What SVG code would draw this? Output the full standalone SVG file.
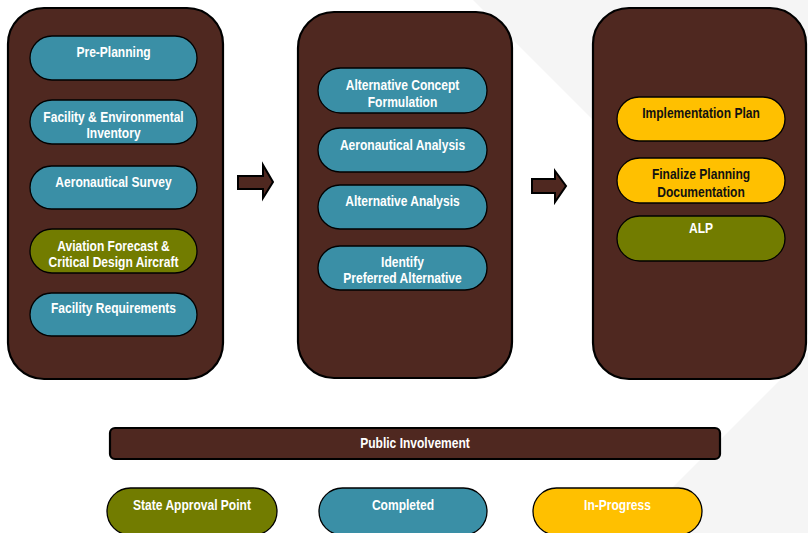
<svg xmlns="http://www.w3.org/2000/svg" width="808" height="533" viewBox="0 0 808 533">
<style>
.bg{fill:#f5f5f5}
.panel{fill:#4f2820;stroke:#000;stroke-width:2.2}
.pill{stroke:#000;stroke-width:1.3}
.blue{fill:#3a8fa6}
.green{fill:#727c00}
.yellow{fill:#ffc000}
.brown{fill:#4f2820}
text{font-family:"Liberation Sans",Arial,sans-serif;font-weight:bold;font-size:14.5px;text-anchor:middle}
.w{fill:#fff}
.k{fill:#111}
.arrow{fill:#4f2820;stroke:#000;stroke-width:2;stroke-linejoin:miter}
</style>
<rect width="808" height="533" fill="#fff"/>
<polygon class="bg" points="473,0 808,0 808,335"/>
<polygon class="bg" points="808,352 808,533 627,533"/>

<g id="panel-1">
<rect class="panel" x="8" y="8" width="215" height="371" rx="36"/>
<g id="pre-planning"><rect class="pill blue" x="30" y="36" width="167" height="44" rx="22"/><text class="w" transform="translate(113.5,57) scale(0.83,1)">Pre-Planning</text></g>
<g id="facility-env"><rect class="pill blue" x="30" y="100" width="167" height="44" rx="22"/><text class="w" transform="translate(113.5,122) scale(0.83,1)">Facility &amp; Environmental</text><text class="w" transform="translate(113.5,138) scale(0.83,1)">Inventory</text></g>
<g id="aero-survey"><rect class="pill blue" x="30" y="166" width="167" height="43" rx="21.5"/><text class="w" transform="translate(113.5,187) scale(0.83,1)">Aeronautical Survey</text></g>
<g id="aviation-forecast"><rect class="pill green" x="30" y="229" width="167" height="44" rx="22"/><text class="w" transform="translate(113.5,251) scale(0.83,1)">Aviation Forecast &amp;</text><text class="w" transform="translate(113.5,267) scale(0.83,1)">Critical Design Aircraft</text></g>
<g id="facility-req"><rect class="pill blue" x="30" y="293" width="167" height="43" rx="21.5"/><text class="w" transform="translate(113.5,313) scale(0.83,1)">Facility Requirements</text></g>
</g>

<g id="panel-2">
<rect class="panel" x="298" y="12" width="214" height="366" rx="36"/>
<g id="alt-concept"><rect class="pill blue" x="318" y="68" width="169" height="45" rx="22.5"/><text class="w" transform="translate(402.5,90) scale(0.83,1)">Alternative Concept</text><text class="w" transform="translate(402.5,107) scale(0.83,1)">Formulation</text></g>
<g id="aero-analysis"><rect class="pill blue" x="318" y="128" width="169" height="44" rx="22"/><text class="w" transform="translate(402.5,150) scale(0.83,1)">Aeronautical Analysis</text></g>
<g id="alt-analysis"><rect class="pill blue" x="318" y="185" width="169" height="44" rx="22"/><text class="w" transform="translate(402.5,206) scale(0.83,1)">Alternative Analysis</text></g>
<g id="identify"><rect class="pill blue" x="318" y="246" width="169" height="44" rx="22"/><text class="w" transform="translate(402.5,267) scale(0.83,1)">Identify</text><text class="w" transform="translate(402.5,283) scale(0.83,1)">Preferred Alternative</text></g>
</g>

<g id="panel-3">
<rect class="panel" x="593" y="8" width="213" height="371" rx="36"/>
<g id="impl-plan"><rect class="pill yellow" x="617" y="97" width="168" height="44" rx="22"/><text class="k" transform="translate(701,118) scale(0.83,1)">Implementation Plan</text></g>
<g id="finalize"><rect class="pill yellow" x="617" y="158" width="168" height="45" rx="22.5"/><text class="k" transform="translate(701,179) scale(0.83,1)">Finalize Planning</text><text class="k" transform="translate(701,197) scale(0.83,1)">Documentation</text></g>
<g id="alp"><rect class="pill green" x="617" y="216" width="168" height="45" rx="22.5"/><text class="w" transform="translate(701,233) scale(0.83,1)">ALP</text></g>
</g>

<g id="connectors">
<polygon class="arrow" points="238,176 263,176 263,165 273,182 263,198 263,189 238,189"/>
<polygon class="arrow" points="532,179 555,179 555,171 566,186 555,202 555,193 532,193"/>
</g>

<g id="public-involvement">
<rect class="panel" x="110" y="428" width="610" height="31" rx="5"/>
<text class="w" transform="translate(415,448) scale(0.83,1)">Public Involvement</text>
</g>

<g id="legend">
<g id="legend-state"><rect class="pill green" x="107" y="488" width="170" height="47" rx="23.5"/><text class="w" transform="translate(192,510) scale(0.83,1)">State Approval Point</text></g>
<g id="legend-completed"><rect class="pill blue" x="319" y="488" width="168" height="47" rx="23.5"/><text class="w" transform="translate(403,510) scale(0.83,1)">Completed</text></g>
<g id="legend-inprogress"><rect class="pill yellow" x="533" y="488" width="169" height="47" rx="23.5"/><text class="w" transform="translate(617.5,510) scale(0.83,1)">In-Progress</text></g>
</g>
</svg>
